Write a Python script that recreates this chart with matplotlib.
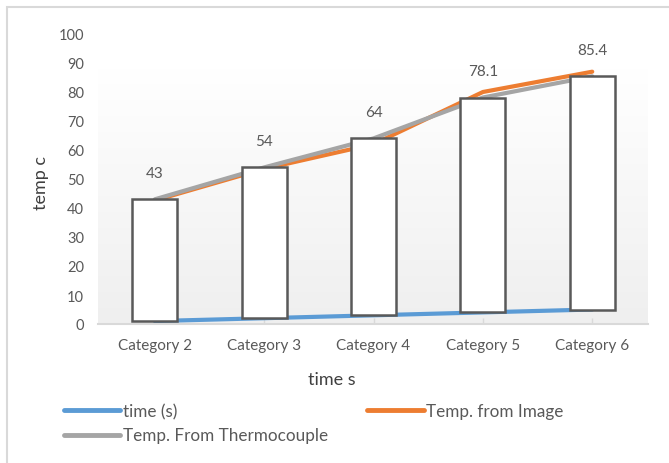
import numpy as np
import matplotlib
matplotlib.use("Agg")
import matplotlib.pyplot as plt
from matplotlib.patches import Rectangle
from matplotlib.lines import Line2D

# data
categories = ["Category 2", "Category 3", "Category 4", "Category 5", "Category 6"]
time_s = [1, 2, 3, 4, 5]
temp_image = [42.6, 53.5, 62, 80, 87]
temp_thermo = [43, 54, 64, 78.1, 85.4]
yticks = [0, 10, 20, 30, 40, 50, 60, 70, 80, 90, 100]

plt.rcParams['font.family'] = ['Lato', 'DejaVu Sans']

fig = plt.figure(figsize=(6.69, 4.64), dpi=100)
ax = fig.add_axes([98/669, 1-325/464, 550/669, 290/464])

# outer chart border (left + top visible)
fig.add_artist(Rectangle((7/669, -0.1), 1.1, 1 - 8/464 + 0.1, transform=fig.transFigure,
                         fill=False, edgecolor="#d9d9d9", linewidth=1.5))

x = np.arange(len(categories))
ax.set_xlim(-0.52, len(categories) - 0.49)
ax.set_ylim(0, 100)

# faint gradient in plot background
grad = np.linspace(0, 1, 256).reshape(-1, 1)
ax.imshow(grad, cmap=matplotlib.colors.LinearSegmentedColormap.from_list("g", ["#efefef", "#ffffff"]),
          extent=(-0.52, len(categories) - 0.49, 0, 88), aspect="auto", origin="lower", zorder=0)

blue = "#5b9bd5"
orange = "#ed7d31"
gray = "#a5a5a5"

ax.plot(x, time_s, color=blue, lw=3, solid_capstyle="round", zorder=2)
ax.plot(x, temp_image, color=orange, lw=3, solid_capstyle="round", zorder=2)
ax.plot(x, temp_thermo, color=gray, lw=3, solid_capstyle="round", zorder=2)

# up/down bars from first to last series
bw = 0.41
for xi, lo, hi in zip(x, time_s, temp_thermo):
    ax.add_patch(Rectangle((xi - bw/2, lo), bw, hi - lo, facecolor="white",
                           edgecolor="#595959", linewidth=1.8, zorder=3))

for xi, v in zip(x, temp_thermo):
    ax.annotate(f"{v:g}", (xi, v), xytext=(0, 19), textcoords="offset points",
                ha="center", va="center", fontsize=11, color="#595959")

ax.set_yticks(yticks)
ax.set_xticks(x)
ax.set_xticklabels(categories)
ax.tick_params(axis="y", length=0, labelsize=10.5, labelcolor="#595959", pad=10)
ax.tick_params(axis="x", direction="in", length=4, color="#d9d9d9", width=1,
               labelsize=11, labelcolor="#595959", pad=10)
for s in ["left", "right", "top"]:
    ax.spines[s].set_visible(False)
ax.spines["bottom"].set_color("#d9d9d9")
ax.spines["bottom"].set_linewidth(1.5)
ax.set_facecolor("none")

fig.text(41/669, 1-183/464, "temp c", rotation=90, ha="center", va="center",
         fontsize=13, color="#404040")
fig.text(332/669, 1-380/464, "time s", ha="center", va="center",
         fontsize=13, color="#404040")

handles = [Line2D([], [], color=blue, lw=3.5, solid_capstyle="round"),
           Line2D([], [], color=gray, lw=3.5, solid_capstyle="round"),
           Line2D([], [], color=orange, lw=3.5, solid_capstyle="round")]
labels = ["time (s)", "Temp. From Thermocouple", "Temp. from Image"]
fig.legend(handles, labels, ncol=2, loc="upper left", bbox_to_anchor=(57/669, 1-397/464),
           frameon=False, fontsize=12.3, labelcolor="#595959", handlelength=3.3,
           handletextpad=0.15, columnspacing=2.3, labelspacing=0.5, borderaxespad=0)

fig.savefig("out.png", dpi=100)
